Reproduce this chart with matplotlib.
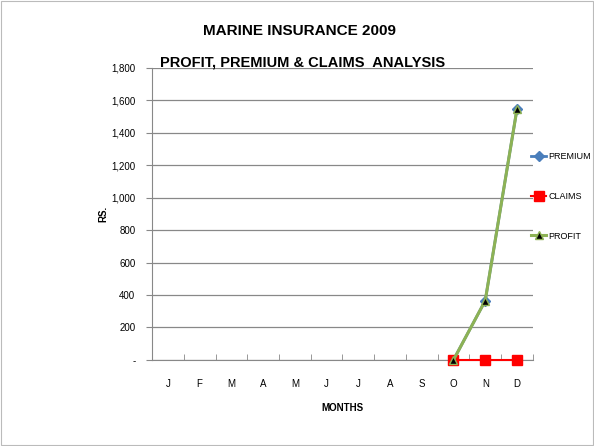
import numpy as np
import matplotlib
matplotlib.use("Agg")
import matplotlib.pyplot as plt
from matplotlib.ticker import FuncFormatter, MultipleLocator, FixedLocator

plt.rcParams['font.family'] = ['Liberation Sans', 'DejaVu Sans']

months = ["J", "F", "M", "A", "M", "J", "J", "A", "S", "O", "N", "D"]
premium = [np.nan] * 9 + [0, 365, 1545]
claims = [np.nan] * 9 + [0, 0, 0]
profit = [np.nan] * 9 + [0, 365, 1545]

fig = plt.figure(figsize=(5.94, 4.46), dpi=100)
ax = fig.add_axes([0.256, 0.193, 0.641, 0.655])

x = np.arange(len(months))
ax.plot(x, premium, color="#4a7ebb", lw=2, marker="D", ms=5, label="PREMIUM",
        zorder=3, clip_on=False)
ax.plot(x, claims, color="#ff0000", lw=1.5, marker="s", ms=6.5, label="CLAIMS",
        zorder=4, clip_on=False)
ax.plot(x, profit, color="#8db255", lw=2.2, marker="^", ms=6,
        markerfacecolor="black", markeredgecolor="#8db255", label="PROFIT",
        zorder=5, clip_on=False)

ax.set_xlim(-0.5, len(months) - 0.5)
ax.set_ylim(0, 1800)
ax.yaxis.set_major_locator(MultipleLocator(200))
ax.yaxis.set_major_formatter(FuncFormatter(lambda v, p: "-" if v == 0 else f"{int(v):,}"))
ax.set_xticks(x)
ax.set_xticklabels(months)
ax.xaxis.set_minor_locator(FixedLocator(np.arange(-0.5, len(months), 1.0)))
ax.tick_params(axis="x", which="major", length=0, pad=14, labelsize=7)
ax.tick_params(axis="x", which="minor", length=4, color="#888888", direction="in")
ax.tick_params(axis="y", length=4, color="#888888", direction="out", labelsize=7, pad=8)

ax.grid(axis="y", color="#888888", lw=0.9)
for s in ["top", "right"]:
    ax.spines[s].set_visible(False)
ax.spines["left"].set_color("#888888")
ax.spines["bottom"].set_color("#888888")

ax.set_xlabel("MONTHS", fontsize=7, fontweight="bold", labelpad=10)
ax.set_ylabel("RS.", fontsize=7, fontweight="bold", labelpad=2)

fig.text(0.505, 0.93, "MARINE INSURANCE 2009", ha="center", va="center",
         fontsize=11, fontweight="bold")
fig.text(0.51, 0.86, "PROFIT, PREMIUM & CLAIMS  ANALYSIS", ha="center", va="center",
         fontsize=10.5, fontweight="bold")

ax.legend(loc="center left", bbox_to_anchor=(0.975, 0.56), frameon=False,
          fontsize=6.5, labelspacing=3.4, handlelength=1.6, handletextpad=0.3)

fig.patches.append(plt.Rectangle((0.002, 0.002), 0.996, 0.996, transform=fig.transFigure,
                                 fill=False, edgecolor="#bbbbbb", lw=0.8))

fig.savefig("out.png", dpi=100)
